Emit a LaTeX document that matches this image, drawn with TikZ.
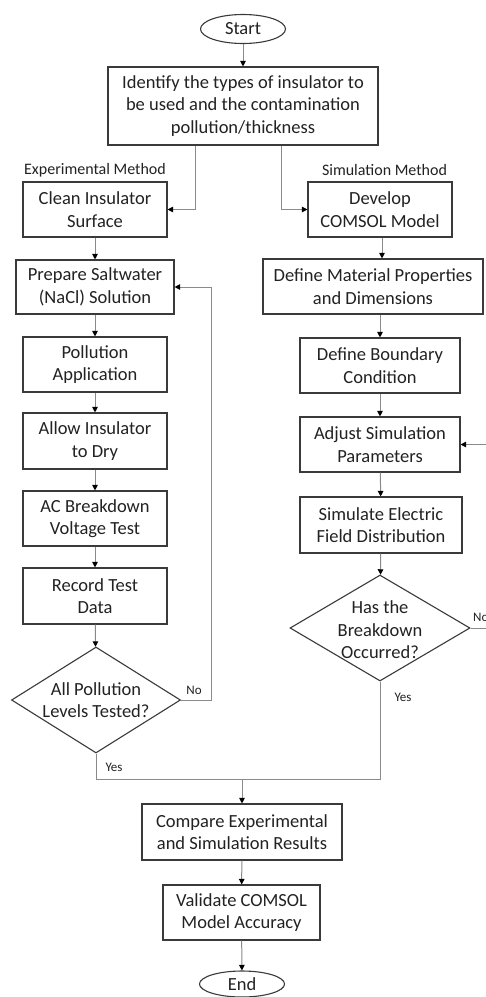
\documentclass[tikz,border=0pt]{standalone}
\usepackage{fontspec}
\setmainfont{Carlito}
\usetikzlibrary{shapes.geometric,arrows.meta,calc}
\definecolor{boxc}{HTML}{3A3A3A}
\definecolor{linec}{HTML}{8A8A8A}
\definecolor{txt}{HTML}{222222}
\begin{document}
\begin{tikzpicture}[x=1pt,y=-1pt,
 box/.style={draw=boxc,line width=1.1pt,rectangle,align=center,inner sep=0pt,
   font=\fontsize{18.5}{22.5}\selectfont,text=txt},
 term/.style={draw=boxc,line width=1.1pt,ellipse,inner sep=0pt,
   font=\fontsize{18.5}{22.5}\selectfont,text=txt},
 dec/.style={draw=boxc,line width=1.1pt,diamond,inner sep=0pt},
 dtext/.style={align=center,font=\fontsize{18.5}{22.5}\selectfont,text=txt},
 conn/.style={draw=linec,line width=1pt,-{Triangle[length=5.5pt,width=5.5pt,color=black]}},
 plain/.style={draw=linec,line width=1pt},
 lbl/.style={font=\fontsize{16}{19}\selectfont,text=txt,inner sep=0pt},
 yn/.style={font=\fontsize{13}{15}\selectfont,text=txt,inner sep=0pt}]
\clip (0,0) rectangle (486,997);
\fill[white] (0,0) rectangle (486,997);

\node[term,minimum width=85,minimum height=29] (start) at (243,29) {Start};
\node[box,minimum width=270,minimum height=78] (ident) at (243,106)
  {Identify the types of insulator to\\be used and the contamination\\pollution/thickness};
\node[lbl] (explbl) at (95,170) {Experimental Method};
\node[lbl] (simlbl) at (384.5,170) {Simulation Method};

% left column
\node[box,minimum width=144,minimum height=55] (clean) at (95,209.5) {Clean Insulator\\Surface};
\node[box,minimum width=158,minimum height=54] (prep) at (95,287) {Prepare Saltwater\\(NaCl) Solution};
\node[box,minimum width=144,minimum height=55] (poll) at (95,364.5) {Pollution\\Application};
\node[box,minimum width=144,minimum height=56] (allow) at (95,441) {Allow Insulator\\to Dry};
\node[box,minimum width=144,minimum height=55] (ac) at (95,518.5) {AC Breakdown\\Voltage Test};
\node[box,minimum width=144,minimum height=56] (rec) at (95,596) {Record Test\\Data};
\node[dec,minimum width=169,minimum height=106,
  label={[dtext]center:{All Pollution\\Levels Tested?}}] (d1) at (96,700) {};

% right column
\node[box,minimum width=144,minimum height=55] (dev) at (380,209.5) {Develop\\COMSOL Model};
\node[box,minimum width=220,minimum height=55] (mat) at (373,286.5) {Define Material Properties\\and Dimensions};
\node[box,minimum width=160,minimum height=55] (bnd) at (380,365.5) {Define Boundary\\Condition};
\node[box,minimum width=160,minimum height=55] (adj) at (380,444.5) {Adjust Simulation\\Parameters};
\node[box,minimum width=162,minimum height=56] (sim) at (381,525) {Simulate Electric\\Field Distribution};
\node[dec,minimum width=180,minimum height=106,
  label={[dtext,yshift=-2pt]center:{Has the\\Breakdown\\Occurred?}}] (d2) at (380,628) {};

% bottom
\node[box,minimum width=200,minimum height=56] (cmp) at (242,832) {Compare Experimental\\and Simulation Results};
\node[box,minimum width=157,minimum height=55] (val) at (241.5,912.5) {Validate COMSOL\\Model Accuracy};
\node[term,minimum width=85,minimum height=26] (end) at (242,984) {End};
\coordinate (merge) at (242,779);

% connectors
\draw[conn] (start) -- (ident);
\draw[conn] ($(ident.south)+(-48,0)$) |- (clean.east);
\draw[conn] ($(ident.south)+(38,0)$) |- (dev.west);
\draw[conn] (clean) -- (prep);
\draw[conn] (prep) -- (poll);
\draw[conn] (poll) -- (allow);
\draw[conn] (allow) -- (ac);
\draw[conn] (ac) -- (rec);
\draw[conn] (rec) -- (d1);
\draw[conn] (d1.east) -- ++(30,0) |- (prep.east);
\node[yn] (no1) at (194,690) {No};
\draw[plain] (d1.south) |- (merge);
\node[yn] (yes1) at (114,767) {Yes};

\draw[conn] ([xshift=2pt]dev.south) -- ([xshift=2pt]dev.south |- mat.north);
\draw[conn] (bnd.north |- mat.south) -- (bnd.north);
\draw[conn] (bnd) -- (adj);
\draw[conn] (adj) -- (sim);
\draw[conn] (sim) -- (d2);
\draw[conn] (d2.east) -- ++(22,0) |- (adj.east);
\node[yn,anchor=west] (no2) at (473,617) {No};
\draw[plain] (d2.south) |- (merge);
\node[yn] (yes2) at (403,697) {Yes};

\draw[conn] (merge) -- (cmp.north);
\draw[conn] (cmp) -- (val);
\draw[conn] (val) -- (end);
\end{tikzpicture}
\end{document}
